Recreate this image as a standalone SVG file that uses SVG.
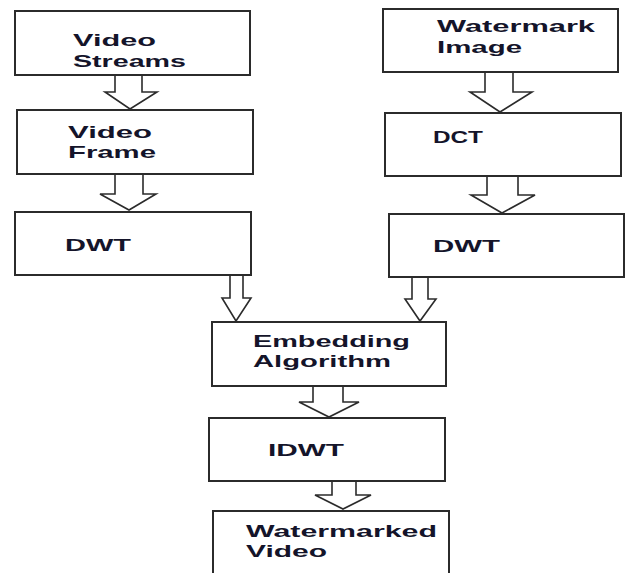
<svg xmlns="http://www.w3.org/2000/svg" width="626" height="573" viewBox="0 0 626 573">
<style>
.box{fill:#fff;stroke:#2b2b2b;stroke-width:2}
.arr{fill:#fff;stroke:#2b2b2b;stroke-width:1.6;stroke-linejoin:miter}
text{font-family:"Liberation Sans",Arial,sans-serif;font-weight:bold;font-size:17px;fill:#14142a}
</style>
<rect width="626" height="573" fill="#fff"/>
<g id="connectors">
<path class="arr" d="M115 75 V92 H105 L130 109 L157 92 H142 V75"/>
<path class="arr" d="M115 174 V194 H100 L129 210 L156 194 H143 V174"/>
<path class="arr" d="M485 72 V92 H470 L500 112 L532 92 H513 V72"/>
<path class="arr" d="M487 176 V195 H471 L502 213 L535 195 H518 V176"/>
<path class="arr" d="M230 275 V298 H222 L236 321 L251 298 H243 V275"/>
<path class="arr" d="M412 277 V299 H405 L420 321 L436 299 H428 V277"/>
<path class="arr" d="M313 386 V402 H299 L329 417 L359 402 H343 V386"/>
<path class="arr" d="M332 481 V495 H315 L343 509 L371 495 H356 V481"/>
</g>
<g id="video-streams">
<rect class="box" x="15" y="11" width="235" height="64"/>
<text x="73" y="46" textLength="83" lengthAdjust="spacingAndGlyphs">Video</text>
<text x="73" y="67" textLength="113" lengthAdjust="spacingAndGlyphs">Streams</text>
</g>
<g id="video-frame">
<rect class="box" x="17" y="110" width="236" height="64"/>
<text x="68" y="138" textLength="84" lengthAdjust="spacingAndGlyphs">Video</text>
<text x="68" y="158" textLength="88" lengthAdjust="spacingAndGlyphs">Frame</text>
</g>
<g id="dwt-left">
<rect class="box" x="15" y="212" width="236" height="63"/>
<text x="65" y="251" textLength="66" lengthAdjust="spacingAndGlyphs">DWT</text>
</g>
<g id="watermark-image">
<rect class="box" x="383" y="9" width="235" height="63"/>
<text x="437" y="32" textLength="158" lengthAdjust="spacingAndGlyphs">Watermark</text>
<text x="437" y="53" textLength="85" lengthAdjust="spacingAndGlyphs">Image</text>
</g>
<g id="dct">
<rect class="box" x="385" y="113" width="236" height="63"/>
<text x="433" y="143" textLength="50" lengthAdjust="spacingAndGlyphs">DCT</text>
</g>
<g id="dwt-right">
<rect class="box" x="389" y="214" width="235" height="63"/>
<text x="433" y="252" textLength="67" lengthAdjust="spacingAndGlyphs">DWT</text>
</g>
<g id="embedding">
<rect class="box" x="212" y="322" width="234" height="64"/>
<text x="253" y="347" textLength="157" lengthAdjust="spacingAndGlyphs">Embedding</text>
<text x="253" y="367" textLength="138" lengthAdjust="spacingAndGlyphs">Algorithm</text>
</g>
<g id="idwt">
<rect class="box" x="209" y="418" width="236" height="63"/>
<text x="268" y="456" textLength="76" lengthAdjust="spacingAndGlyphs">IDWT</text>
</g>
<g id="watermarked-video">
<rect class="box" x="213" y="511" width="236" height="70"/>
<text x="246" y="537" textLength="191" lengthAdjust="spacingAndGlyphs">Watermarked</text>
<text x="246" y="557" textLength="81" lengthAdjust="spacingAndGlyphs">Video</text>
</g>
</svg>
